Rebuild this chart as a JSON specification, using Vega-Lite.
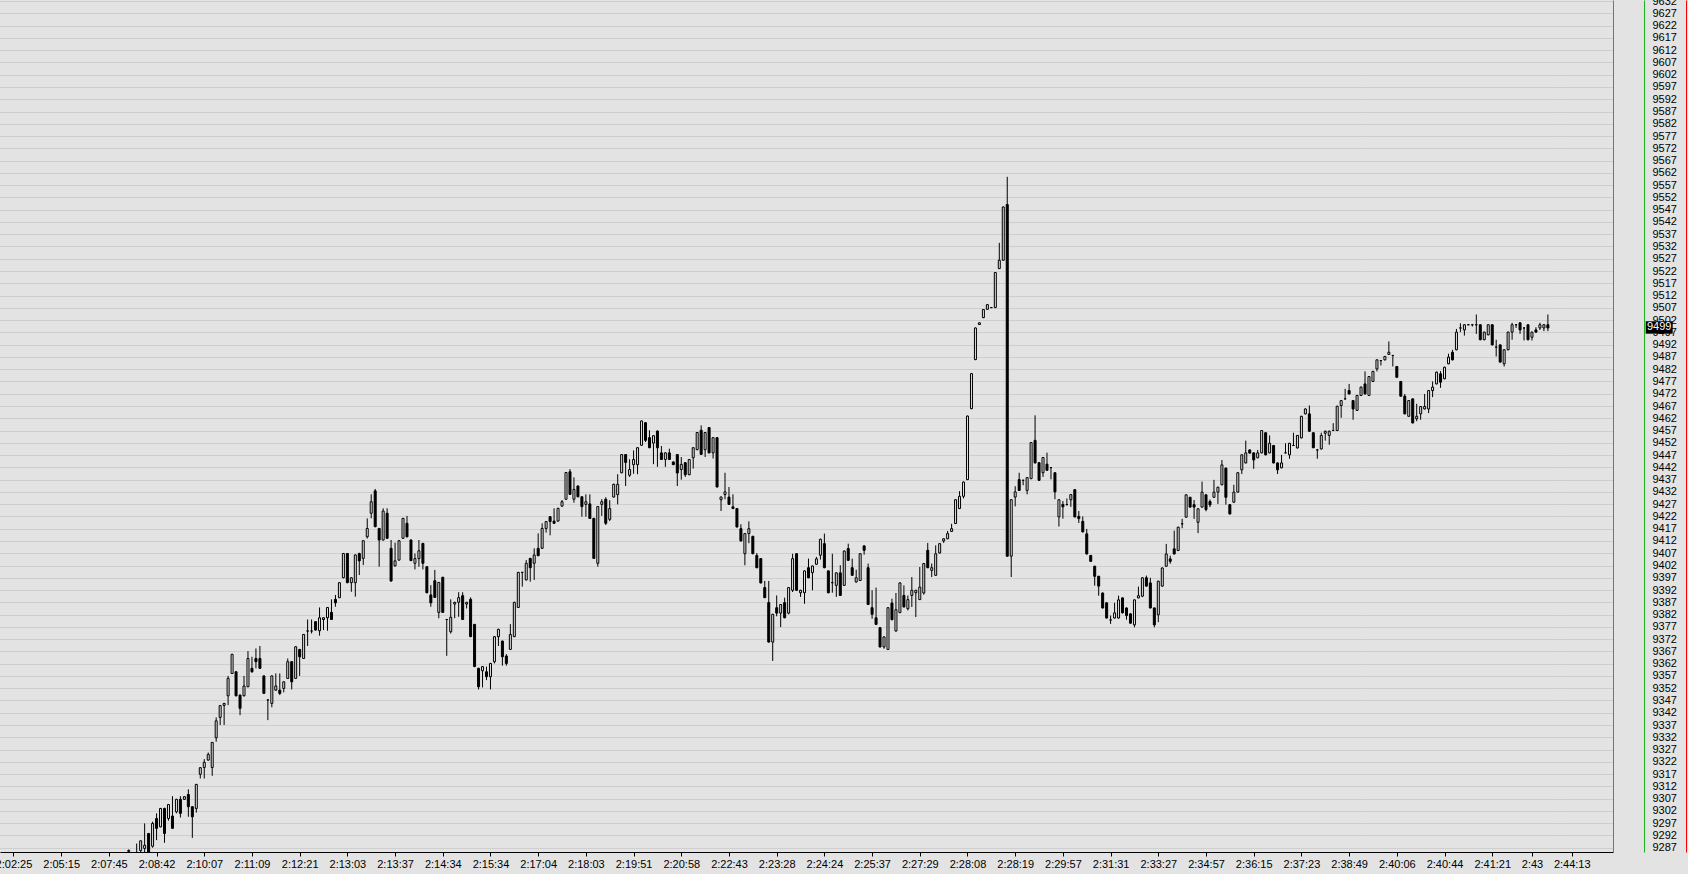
{
"$schema": "https://vega.github.io/schema/vega-lite/v6.json",
"width": 1613, "height": 852,
"autosize": {"type": "none"},
"padding": {"left": 0, "top": 0, "right": 75, "bottom": 22},
"background": "#e3e3e3",
"config": {"view": {"stroke": null}, "axis": {"labelFont": "Liberation Sans", "labelFontSize": 11, "labelColor": "#000000"}},
"datasets": {
"last": [{"price": 9499}],
"candles": [
{"i":29,"o":9285.5,"h":9286.3,"l":9283,"c":9285.9},
{"i":31,"o":9284,"h":9288.7,"l":9280,"c":9283},
{"i":32,"o":9285.8,"h":9289.9,"l":9285,"c":9289.8},
{"i":33,"o":9286.7,"h":9296.9,"l":9285.2,"c":9288.0},
{"i":34,"o":9292.8,"h":9293,"l":9283,"c":9284.5},
{"i":35,"o":9287.6,"h":9297.6,"l":9287,"c":9296.9},
{"i":36,"o":9298.9,"h":9301,"l":9290.1,"c":9294.9},
{"i":37,"o":9295.5,"h":9303.2,"l":9295.3,"c":9303.0},
{"i":38,"o":9303,"h":9303.3,"l":9289,"c":9292.8},
{"i":39,"o":9298.9,"h":9304.8,"l":9298,"c":9304.6},
{"i":40,"o":9299.9,"h":9308,"l":9294.7,"c":9294.9},
{"i":41,"o":9301.6,"h":9306.9,"l":9301,"c":9306.7},
{"i":42,"o":9306.7,"h":9308,"l":9299.3,"c":9301.0},
{"i":43,"o":9306.7,"h":9308,"l":9306.5,"c":9307.8},
{"i":44,"o":9308.7,"h":9310.8,"l":9299.6,"c":9303.7},
{"i":45,"o":9303.7,"h":9303.9,"l":9291,"c":9299.6},
{"i":46,"o":9303,"h":9313,"l":9301.3,"c":9312.8},
{"i":47,"o":9316.9,"h":9319.8,"l":9315.2,"c":9319.6},
{"i":48,"o":9319.7,"h":9323.1,"l":9315.2,"c":9321.8},
{"i":49,"o":9322.7,"h":9325.8,"l":9322.5,"c":9325.0},
{"i":50,"o":9319.7,"h":9330.1,"l":9316.3,"c":9329.9},
{"i":51,"o":9331.8,"h":9340.1,"l":9330.2,"c":9338.7},
{"i":52,"o":9340.1,"h":9345.1,"l":9337,"c":9344.9},
{"i":53,"o":9345,"h":9346,"l":9337,"c":9345.8},
{"i":54,"o":9348.9,"h":9357,"l":9345.1,"c":9356.0},
{"i":55,"o":9358,"h":9366,"l":9357.8,"c":9365.8},
{"i":56,"o":9358.7,"h":9358.9,"l":9348.7,"c":9348.9},
{"i":57,"o":9349.2,"h":9349.4,"l":9341,"c":9343.8},
{"i":58,"o":9348.9,"h":9357,"l":9348.7,"c":9352.9},
{"i":59,"o":9352.6,"h":9367.1,"l":9352.4,"c":9364.1},
{"i":60,"o":9360.1,"h":9364.8,"l":9358.3,"c":9358.7},
{"i":61,"o":9364.1,"h":9368.2,"l":9360.1,"c":9362.8},
{"i":62,"o":9364.1,"h":9369.2,"l":9359.9,"c":9360.1},
{"i":63,"o":9357,"h":9357.2,"l":9349.7,"c":9349.9},
{"i":64,"o":9347.2,"h":9347.4,"l":9339,"c":9347.2},
{"i":65,"o":9345.8,"h":9357.2,"l":9344.2,"c":9357.0},
{"i":66,"o":9351.2,"h":9358,"l":9351,"c":9352.9},
{"i":67,"o":9351.2,"h":9358,"l":9349.2,"c":9349.9},
{"i":68,"o":9351.9,"h":9354.8,"l":9350.3,"c":9354.6},
{"i":69,"o":9356,"h":9364.1,"l":9355.8,"c":9362.8},
{"i":70,"o":9362.8,"h":9363,"l":9351.5,"c":9354.6},
{"i":71,"o":9356,"h":9369.1,"l":9355.8,"c":9368.9},
{"i":72,"o":9367.8,"h":9368,"l":9357,"c":9364.8},
{"i":73,"o":9364.1,"h":9374.1,"l":9363.9,"c":9373.9},
{"i":74,"o":9375.3,"h":9380,"l":9369.2,"c":9375.3},
{"i":75,"o":9375.3,"h":9380,"l":9374.3,"c":9375.3},
{"i":76,"o":9379.1,"h":9379.3,"l":9375.5,"c":9375.7},
{"i":77,"o":9375.4,"h":9384.9,"l":9373.4,"c":9380.7},
{"i":78,"o":9380,"h":9380.9,"l":9375.7,"c":9380.7},
{"i":79,"o":9380.7,"h":9385.1,"l":9375.4,"c":9384.9},
{"i":80,"o":9382.9,"h":9388.2,"l":9379.8,"c":9380.0},
{"i":81,"o":9388.2,"h":9390,"l":9385.2,"c":9386.8},
{"i":82,"o":9388.9,"h":9395.2,"l":9388.7,"c":9395.0},
{"i":83,"o":9397,"h":9407.1,"l":9396.8,"c":9406.9},
{"i":84,"o":9406.9,"h":9407.1,"l":9394.8,"c":9395.0},
{"i":85,"o":9395,"h":9397.2,"l":9391.3,"c":9397.0},
{"i":86,"o":9395,"h":9406.5,"l":9389.3,"c":9406.3},
{"i":87,"o":9406.9,"h":9407.2,"l":9398.1,"c":9403.9},
{"i":88,"o":9404.9,"h":9412.3,"l":9402.2,"c":9412.1},
{"i":89,"o":9413.7,"h":9421.2,"l":9413,"c":9417.1},
{"i":90,"o":9423.3,"h":9431,"l":9421.2,"c":9428.0},
{"i":91,"o":9432.4,"h":9433.2,"l":9417.6,"c":9417.8},
{"i":92,"o":9417.1,"h":9417.3,"l":9401.5,"c":9412.4},
{"i":93,"o":9412.4,"h":9425.3,"l":9412.2,"c":9424.2},
{"i":94,"o":9423.3,"h":9425.3,"l":9412.9,"c":9413.1},
{"i":95,"o":9409,"h":9412.4,"l":9395.3,"c":9395.7},
{"i":96,"o":9401.9,"h":9411.3,"l":9401.5,"c":9403.9},
{"i":97,"o":9404.2,"h":9412.3,"l":9404,"c":9412.1},
{"i":98,"o":9413.1,"h":9421.4,"l":9412.9,"c":9421.2},
{"i":99,"o":9419.2,"h":9422.2,"l":9413.5,"c":9413.7},
{"i":100,"o":9412.4,"h":9412.6,"l":9403.8,"c":9404.0},
{"i":101,"o":9402.9,"h":9406.9,"l":9400.4,"c":9404.8},
{"i":102,"o":9404.8,"h":9412.4,"l":9401.5,"c":9408.0},
{"i":103,"o":9411,"h":9411.2,"l":9400.4,"c":9402.9},
{"i":104,"o":9401.5,"h":9401.7,"l":9390.7,"c":9390.9},
{"i":105,"o":9390,"h":9394,"l":9385.2,"c":9386.8},
{"i":106,"o":9395.8,"h":9400.2,"l":9388.8,"c":9389.0},
{"i":107,"o":9382.9,"h":9395.3,"l":9380.5,"c":9395.1},
{"i":108,"o":9397.2,"h":9397.4,"l":9382.7,"c":9382.9},
{"i":109,"o":9380,"h":9380.2,"l":9365.2,"c":9380.0},
{"i":110,"o":9375,"h":9388.2,"l":9374.3,"c":9380.9},
{"i":111,"o":9386.3,"h":9387.2,"l":9380.5,"c":9387.0},
{"i":112,"o":9387,"h":9391.1,"l":9381.1,"c":9388.9},
{"i":113,"o":9389.7,"h":9391.1,"l":9379.8,"c":9380.0},
{"i":114,"o":9386.3,"h":9387.2,"l":9384.5,"c":9387.0},
{"i":115,"o":9388.2,"h":9389,"l":9372.8,"c":9373.0},
{"i":116,"o":9378,"h":9378.2,"l":9360.6,"c":9360.8},
{"i":117,"o":9360.1,"h":9360.3,"l":9351.5,"c":9352.6},
{"i":118,"o":9359.1,"h":9361,"l":9352.3,"c":9360.8},
{"i":119,"o":9358.7,"h":9360.8,"l":9355.3,"c":9356.7},
{"i":120,"o":9356.7,"h":9362.3,"l":9351.5,"c":9362.1},
{"i":121,"o":9362.8,"h":9373.2,"l":9362.1,"c":9373.0},
{"i":122,"o":9373,"h":9376.2,"l":9369.2,"c":9376.0},
{"i":123,"o":9371.2,"h":9371.4,"l":9361.2,"c":9364.8},
{"i":124,"o":9365.1,"h":9365.9,"l":9361.2,"c":9362.1},
{"i":125,"o":9367.8,"h":9378.1,"l":9367.6,"c":9373.9},
{"i":126,"o":9373,"h":9387.2,"l":9372.8,"c":9387.0},
{"i":127,"o":9384.9,"h":9399.4,"l":9384.7,"c":9399.2},
{"i":128,"o":9399.2,"h":9399.4,"l":9393.4,"c":9399.2},
{"i":129,"o":9396.1,"h":9404.2,"l":9396,"c":9402.9},
{"i":130,"o":9404.9,"h":9405.1,"l":9395.4,"c":9401.1},
{"i":131,"o":9402.9,"h":9409,"l":9396.1,"c":9406.3},
{"i":132,"o":9409,"h":9415.1,"l":9405.8,"c":9406.0},
{"i":133,"o":9409,"h":9419.2,"l":9408.8,"c":9417.1},
{"i":134,"o":9417.1,"h":9420.1,"l":9415.4,"c":9419.9},
{"i":135,"o":9421.9,"h":9422.1,"l":9414.3,"c":9419.9},
{"i":136,"o":9420.1,"h":9425.3,"l":9419,"c":9419.2},
{"i":137,"o":9420.1,"h":9425.5,"l":9419.9,"c":9425.3},
{"i":138,"o":9426.2,"h":9428.7,"l":9426,"c":9428.0},
{"i":139,"o":9429,"h":9440.1,"l":9428.8,"c":9439.9},
{"i":140,"o":9440.2,"h":9441.3,"l":9430.8,"c":9431.0},
{"i":141,"o":9429,"h":9437.9,"l":9427.6,"c":9433.0},
{"i":142,"o":9434.4,"h":9434.6,"l":9429.8,"c":9430.0},
{"i":143,"o":9430,"h":9430.2,"l":9421.9,"c":9426.0},
{"i":144,"o":9426.9,"h":9431,"l":9421.9,"c":9428.0},
{"i":145,"o":9427.1,"h":9431,"l":9421,"c":9421.2},
{"i":146,"o":9421.2,"h":9421.4,"l":9404.7,"c":9404.9},
{"i":147,"o":9402.9,"h":9426.2,"l":9401.5,"c":9426.0},
{"i":148,"o":9426.9,"h":9429,"l":9422.2,"c":9428.0},
{"i":149,"o":9429,"h":9429.8,"l":9418.5,"c":9419.2},
{"i":150,"o":9420.8,"h":9428.6,"l":9420.1,"c":9425.2},
{"i":151,"o":9429.9,"h":9435.3,"l":9429.7,"c":9435.1},
{"i":152,"o":9430.9,"h":9439.2,"l":9426.9,"c":9435.1},
{"i":153,"o":9439.8,"h":9447.4,"l":9439.6,"c":9447.2},
{"i":154,"o":9447.2,"h":9447.4,"l":9434.4,"c":9444.0},
{"i":155,"o":9438.8,"h":9445.3,"l":9438.1,"c":9441.1},
{"i":156,"o":9443.1,"h":9448.9,"l":9439.4,"c":9445.2},
{"i":157,"o":9443.1,"h":9450.2,"l":9439.2,"c":9450.0},
{"i":158,"o":9451,"h":9461.1,"l":9450.8,"c":9460.9},
{"i":159,"o":9460.2,"h":9460.4,"l":9452.3,"c":9453.0},
{"i":160,"o":9454.1,"h":9457.1,"l":9449.8,"c":9450.0},
{"i":161,"o":9451.9,"h":9455.1,"l":9443.3,"c":9454.9},
{"i":162,"o":9456.8,"h":9457,"l":9442.2,"c":9450.0},
{"i":163,"o":9447.9,"h":9450.7,"l":9445,"c":9445.2},
{"i":164,"o":9445.2,"h":9448.1,"l":9442.2,"c":9447.9},
{"i":165,"o":9447.9,"h":9449.6,"l":9445,"c":9445.2},
{"i":166,"o":9444.2,"h":9444.4,"l":9442.9,"c":9443.1},
{"i":167,"o":9447.2,"h":9447.4,"l":9434.4,"c":9439.7},
{"i":168,"o":9441.1,"h":9446.2,"l":9437,"c":9443.2},
{"i":169,"o":9443.9,"h":9444.1,"l":9438.1,"c":9439.0},
{"i":170,"o":9439,"h":9445.4,"l":9438.8,"c":9445.2},
{"i":171,"o":9445.9,"h":9450.2,"l":9441.5,"c":9450.0},
{"i":172,"o":9449.2,"h":9456.4,"l":9449,"c":9456.2},
{"i":173,"o":9457.1,"h":9459.1,"l":9447.1,"c":9447.3},
{"i":174,"o":9449.2,"h":9456.4,"l":9446.2,"c":9456.2},
{"i":175,"o":9458.2,"h":9458.4,"l":9447.7,"c":9447.9},
{"i":176,"o":9447.9,"h":9454.3,"l":9445.6,"c":9454.1},
{"i":177,"o":9454.1,"h":9454.3,"l":9433.8,"c":9434.0},
{"i":178,"o":9428.8,"h":9430.1,"l":9424.2,"c":9429.9},
{"i":179,"o":9430.9,"h":9439.8,"l":9429,"c":9432.0},
{"i":180,"o":9429.9,"h":9434,"l":9426.7,"c":9426.9},
{"i":181,"o":9425.9,"h":9431,"l":9425,"c":9425.2},
{"i":182,"o":9425.2,"h":9425.4,"l":9417.5,"c":9417.7},
{"i":183,"o":9417,"h":9418.8,"l":9411.8,"c":9412.0},
{"i":184,"o":9406.8,"h":9415.2,"l":9402.1,"c":9415.0},
{"i":185,"o":9415,"h":9420,"l":9411.1,"c":9417.0},
{"i":186,"o":9413.9,"h":9414.1,"l":9406.6,"c":9406.8},
{"i":187,"o":9406.1,"h":9407.1,"l":9400.9,"c":9401.1},
{"i":188,"o":9404.8,"h":9405,"l":9394.7,"c":9394.9},
{"i":189,"o":9393,"h":9395.7,"l":9388.7,"c":9388.9},
{"i":190,"o":9386.9,"h":9395.7,"l":9370.6,"c":9370.8},
{"i":191,"o":9370.8,"h":9382.3,"l":9363.1,"c":9382.1},
{"i":192,"o":9384.8,"h":9389.8,"l":9381.3,"c":9382.6},
{"i":193,"o":9382.6,"h":9386.3,"l":9376.9,"c":9386.1},
{"i":194,"o":9386.9,"h":9388.9,"l":9380.5,"c":9380.7},
{"i":195,"o":9382.6,"h":9393.2,"l":9382.1,"c":9393.0},
{"i":196,"o":9391.9,"h":9406.8,"l":9391.2,"c":9404.8},
{"i":197,"o":9406.8,"h":9407,"l":9391.7,"c":9391.9},
{"i":198,"o":9390.9,"h":9392.1,"l":9389.2,"c":9391.9},
{"i":199,"o":9390.9,"h":9400,"l":9386.4,"c":9399.8},
{"i":200,"o":9401.1,"h":9404.8,"l":9396.8,"c":9397.0},
{"i":201,"o":9399.1,"h":9402,"l":9391.9,"c":9401.8},
{"i":202,"o":9402.5,"h":9405.5,"l":9402.3,"c":9404.7},
{"i":203,"o":9406.2,"h":9412.9,"l":9404.4,"c":9412.7},
{"i":204,"o":9410.9,"h":9415,"l":9400.9,"c":9401.1},
{"i":205,"o":9399.8,"h":9400,"l":9390.7,"c":9390.9},
{"i":206,"o":9395,"h":9406.8,"l":9390.9,"c":9395.0},
{"i":207,"o":9393.9,"h":9399.2,"l":9389.2,"c":9399.0},
{"i":208,"o":9399,"h":9402.1,"l":9389.6,"c":9389.8},
{"i":209,"o":9393.9,"h":9408.1,"l":9393.7,"c":9407.9},
{"i":210,"o":9408.9,"h":9410.9,"l":9403.9,"c":9404.1},
{"i":211,"o":9401.1,"h":9404.8,"l":9397.8,"c":9398.0},
{"i":212,"o":9395.3,"h":9400.3,"l":9395,"c":9397.0},
{"i":213,"o":9395.9,"h":9407,"l":9395.7,"c":9406.8},
{"i":214,"o":9410,"h":9410.2,"l":9406.4,"c":9408.2},
{"i":215,"o":9401.1,"h":9402.8,"l":9385.9,"c":9386.1},
{"i":216,"o":9384.8,"h":9391.9,"l":9380.3,"c":9382.1},
{"i":217,"o":9380.7,"h":9393,"l":9377.8,"c":9378.0},
{"i":218,"o":9376.7,"h":9376.9,"l":9368.6,"c":9368.8},
{"i":219,"o":9368.8,"h":9373.1,"l":9368.1,"c":9372.9},
{"i":220,"o":9367.8,"h":9385,"l":9367.6,"c":9384.8},
{"i":221,"o":9386.7,"h":9388.5,"l":9379.7,"c":9379.9},
{"i":222,"o":9375.3,"h":9390.8,"l":9375.1,"c":9384.0},
{"i":223,"o":9382.8,"h":9395.1,"l":9382.6,"c":9394.9},
{"i":224,"o":9389.8,"h":9393.9,"l":9384.9,"c":9385.1},
{"i":225,"o":9384.4,"h":9389.8,"l":9383.7,"c":9388.1},
{"i":226,"o":9389.8,"h":9397.3,"l":9385.1,"c":9391.9},
{"i":227,"o":9390.9,"h":9392.1,"l":9381,"c":9391.9},
{"i":228,"o":9388.1,"h":9401.4,"l":9388,"c":9393.2},
{"i":229,"o":9390.8,"h":9403,"l":9390.1,"c":9402.8},
{"i":230,"o":9408.2,"h":9411.2,"l":9400.9,"c":9401.1},
{"i":231,"o":9400,"h":9402.8,"l":9397.3,"c":9401.1},
{"i":232,"o":9398,"h":9410.2,"l":9397.8,"c":9406.8},
{"i":233,"o":9407.1,"h":9411.1,"l":9406.9,"c":9410.9},
{"i":234,"o":9412,"h":9413.1,"l":9411.2,"c":9412.9},
{"i":235,"o":9412.9,"h":9416.1,"l":9412.7,"c":9415.0},
{"i":236,"o":9415.9,"h":9419,"l":9415.7,"c":9417.0},
{"i":237,"o":9419.1,"h":9429,"l":9418.9,"c":9428.8},
{"i":238,"o":9425.2,"h":9432.3,"l":9425,"c":9430.2},
{"i":239,"o":9430.2,"h":9436.2,"l":9429.3,"c":9436.0},
{"i":240,"o":9437,"h":9463.1,"l":9436.8,"c":9462.9},
{"i":241,"o":9465.9,"h":9480.4,"l":9465.7,"c":9480.2},
{"i":242,"o":9485.9,"h":9499,"l":9485.7,"c":9498.8},
{"i":243,"o":9500.2,"h":9501.1,"l":9500,"c":9500.9},
{"i":244,"o":9503,"h":9506.5,"l":9502.8,"c":9506.3},
{"i":245,"o":9506.4,"h":9508.5,"l":9506.2,"c":9508.3},
{"i":246,"o":9507.1,"h":9507.3,"l":9506.9,"c":9507.1},
{"i":247,"o":9507.1,"h":9521.6,"l":9506.9,"c":9521.4},
{"i":248,"o":9523,"h":9533.5,"l":9522.8,"c":9526.4},
{"i":249,"o":9526.4,"h":9548.3,"l":9526.2,"c":9548.1},
{"i":250,"o":9549.1,"h":9560.4,"l":9405.6,"c":9405.8},
{"i":251,"o":9405.8,"h":9429,"l":9397.3,"c":9428.8},
{"i":252,"o":9429.9,"h":9434.3,"l":9426.1,"c":9432.0},
{"i":253,"o":9437,"h":9439.8,"l":9432.4,"c":9432.6},
{"i":254,"o":9436.7,"h":9437,"l":9434.7,"c":9436.7},
{"i":255,"o":9432.6,"h":9438,"l":9431,"c":9437.8},
{"i":256,"o":9437.4,"h":9452.3,"l":9437.2,"c":9452.1},
{"i":257,"o":9453,"h":9463.2,"l":9443.6,"c":9443.8},
{"i":258,"o":9443.9,"h":9444.1,"l":9436.5,"c":9436.7},
{"i":259,"o":9439.8,"h":9446.2,"l":9438.1,"c":9446.0},
{"i":260,"o":9443.3,"h":9448,"l":9440.6,"c":9440.8},
{"i":261,"o":9441.9,"h":9442.1,"l":9437.1,"c":9441.9},
{"i":262,"o":9439.8,"h":9440,"l":9429,"c":9432.0},
{"i":263,"o":9421.8,"h":9429,"l":9417.9,"c":9428.8},
{"i":264,"o":9426.9,"h":9428.3,"l":9421.1,"c":9425.9},
{"i":265,"o":9426.8,"h":9429.3,"l":9426.5,"c":9426.8},
{"i":266,"o":9428.8,"h":9431.1,"l":9425.9,"c":9430.9},
{"i":267,"o":9432.9,"h":9433.1,"l":9421.6,"c":9421.8},
{"i":268,"o":9422,"h":9424.2,"l":9419.3,"c":9421.1},
{"i":269,"o":9420,"h":9422,"l":9415.5,"c":9415.7},
{"i":270,"o":9414.9,"h":9416.9,"l":9406.5,"c":9406.7},
{"i":271,"o":9406.1,"h":9406.3,"l":9403.5,"c":9403.7},
{"i":272,"o":9401.7,"h":9401.9,"l":9393.8,"c":9397.6},
{"i":273,"o":9397.6,"h":9397.8,"l":9389.7,"c":9393.6},
{"i":274,"o":9390.8,"h":9391,"l":9384.5,"c":9384.7},
{"i":275,"o":9386.8,"h":9387,"l":9380.4,"c":9380.6},
{"i":276,"o":9379.8,"h":9381.6,"l":9378.2,"c":9379.8},
{"i":277,"o":9380.6,"h":9386.8,"l":9380.4,"c":9382.7},
{"i":278,"o":9380.6,"h":9389.7,"l":9380.4,"c":9388.0},
{"i":279,"o":9388.8,"h":9389,"l":9382.5,"c":9382.7},
{"i":280,"o":9384.7,"h":9384.9,"l":9379.9,"c":9381.6},
{"i":281,"o":9382.3,"h":9382.5,"l":9378.3,"c":9378.5},
{"i":282,"o":9377.8,"h":9388.2,"l":9376.8,"c":9388.0},
{"i":283,"o":9388.8,"h":9393.4,"l":9388.6,"c":9389.7},
{"i":284,"o":9389.5,"h":9397.2,"l":9389.1,"c":9397.0},
{"i":285,"o":9397,"h":9397.9,"l":9393.4,"c":9393.6},
{"i":286,"o":9394.9,"h":9397,"l":9384.5,"c":9384.7},
{"i":287,"o":9384.7,"h":9384.9,"l":9376.8,"c":9377.8},
{"i":288,"o":9381.9,"h":9395.8,"l":9378.9,"c":9395.6},
{"i":289,"o":9393.6,"h":9401.2,"l":9393.4,"c":9401.0},
{"i":290,"o":9401.7,"h":9410.8,"l":9401.5,"c":9406.7},
{"i":291,"o":9404.7,"h":9406,"l":9402.7,"c":9403.7},
{"i":292,"o":9408.8,"h":9416.2,"l":9406.5,"c":9406.7},
{"i":293,"o":9408.1,"h":9417.8,"l":9407.9,"c":9417.6},
{"i":294,"o":9419,"h":9421,"l":9417.2,"c":9419.0},
{"i":295,"o":9421.7,"h":9431,"l":9421.5,"c":9430.8},
{"i":296,"o":9429.8,"h":9430,"l":9425.6,"c":9425.8},
{"i":297,"o":9426.8,"h":9428.7,"l":9421,"c":9425.8},
{"i":298,"o":9419.6,"h":9425.3,"l":9415.2,"c":9425.1},
{"i":299,"o":9425.8,"h":9436.2,"l":9425.6,"c":9431.9},
{"i":300,"o":9430.8,"h":9431,"l":9424.1,"c":9424.8},
{"i":301,"o":9428.1,"h":9428.9,"l":9425.8,"c":9426.7},
{"i":302,"o":9429.8,"h":9436.9,"l":9429.6,"c":9431.9},
{"i":303,"o":9431.9,"h":9434.1,"l":9427.1,"c":9433.9},
{"i":304,"o":9434.9,"h":9445,"l":9434.7,"c":9443.0},
{"i":305,"o":9441.7,"h":9441.9,"l":9426.8,"c":9429.8},
{"i":306,"o":9426.8,"h":9427,"l":9422.8,"c":9423.0},
{"i":307,"o":9427.8,"h":9434.9,"l":9427.6,"c":9431.9},
{"i":308,"o":9431.9,"h":9440,"l":9431.7,"c":9439.8},
{"i":309,"o":9441,"h":9447.3,"l":9439.3,"c":9447.1},
{"i":310,"o":9443.8,"h":9452.9,"l":9443.6,"c":9447.9},
{"i":311,"o":9449.1,"h":9449.3,"l":9447.6,"c":9447.8},
{"i":312,"o":9447.9,"h":9448.1,"l":9441.4,"c":9445.0},
{"i":313,"o":9445.9,"h":9449.1,"l":9445.7,"c":9447.9},
{"i":314,"o":9447.9,"h":9457.2,"l":9447.7,"c":9457.0},
{"i":315,"o":9456.1,"h":9456.3,"l":9446.9,"c":9447.1},
{"i":316,"o":9447.9,"h":9455,"l":9447.7,"c":9451.8},
{"i":317,"o":9450.9,"h":9451.1,"l":9443.6,"c":9443.8},
{"i":318,"o":9443.8,"h":9444,"l":9439.3,"c":9441.0},
{"i":319,"o":9441.8,"h":9447.1,"l":9441.6,"c":9443.8},
{"i":320,"o":9447.9,"h":9451.8,"l":9447.7,"c":9447.9},
{"i":321,"o":9447.1,"h":9452,"l":9445.5,"c":9451.8},
{"i":322,"o":9450.9,"h":9456.1,"l":9450.7,"c":9450.9},
{"i":323,"o":9449.9,"h":9455.2,"l":9449.7,"c":9455.0},
{"i":324,"o":9454,"h":9463,"l":9453.8,"c":9462.8},
{"i":325,"o":9463.8,"h":9466,"l":9463.6,"c":9465.8},
{"i":326,"o":9463.8,"h":9467.2,"l":9456.5,"c":9456.7},
{"i":327,"o":9456.1,"h":9456.3,"l":9449.8,"c":9450.0},
{"i":328,"o":9449.1,"h":9449.3,"l":9445.5,"c":9449.1},
{"i":329,"o":9449.5,"h":9456.1,"l":9449.3,"c":9455.0},
{"i":330,"o":9455.9,"h":9457,"l":9452.9,"c":9456.7},
{"i":331,"o":9455,"h":9457,"l":9451.2,"c":9456.7},
{"i":332,"o":9457,"h":9460,"l":9456.8,"c":9457.0},
{"i":333,"o":9457,"h":9467.1,"l":9456.8,"c":9466.9},
{"i":334,"o":9467.2,"h":9469.4,"l":9462.2,"c":9469.2},
{"i":335,"o":9469.9,"h":9474,"l":9469.7,"c":9469.9},
{"i":336,"o":9473.3,"h":9476,"l":9471.7,"c":9471.9},
{"i":337,"o":9469.2,"h":9469.4,"l":9461.4,"c":9465.8},
{"i":338,"o":9465.2,"h":9471.5,"l":9465,"c":9471.3},
{"i":339,"o":9471.3,"h":9474.9,"l":9471.1,"c":9474.7},
{"i":340,"o":9476,"h":9481.1,"l":9471.7,"c":9471.9},
{"i":341,"o":9471.3,"h":9479.2,"l":9471.1,"c":9479.0},
{"i":342,"o":9477,"h":9481.3,"l":9476.8,"c":9481.1},
{"i":343,"o":9482.1,"h":9486,"l":9481.1,"c":9485.8},
{"i":344,"o":9485.5,"h":9485.7,"l":9483.5,"c":9485.5},
{"i":345,"o":9485.8,"h":9487.4,"l":9485.6,"c":9487.2},
{"i":346,"o":9488,"h":9493.3,"l":9487.8,"c":9488.9},
{"i":347,"o":9487.6,"h":9487.8,"l":9483.1,"c":9487.6},
{"i":348,"o":9483.1,"h":9483.3,"l":9478.5,"c":9478.7},
{"i":349,"o":9477,"h":9477.2,"l":9470.8,"c":9471.0},
{"i":350,"o":9471,"h":9471.9,"l":9463.6,"c":9463.8},
{"i":351,"o":9462.8,"h":9469.4,"l":9462.6,"c":9469.2},
{"i":352,"o":9469.9,"h":9470.1,"l":9459.9,"c":9460.1},
{"i":353,"o":9461.8,"h":9467.9,"l":9460.8,"c":9462.8},
{"i":354,"o":9463.8,"h":9467,"l":9461.4,"c":9466.8},
{"i":355,"o":9465.8,"h":9471.9,"l":9465.6,"c":9466.8},
{"i":356,"o":9465.8,"h":9473.5,"l":9464.1,"c":9473.3},
{"i":357,"o":9473.3,"h":9477,"l":9470.6,"c":9474.7},
{"i":358,"o":9476,"h":9481,"l":9475.8,"c":9480.8},
{"i":359,"o":9480.1,"h":9481.2,"l":9474.4,"c":9476.7},
{"i":360,"o":9478.1,"h":9483,"l":9477.9,"c":9482.8},
{"i":361,"o":9484.2,"h":9488.3,"l":9484,"c":9486.9},
{"i":362,"o":9488.9,"h":9489.9,"l":9485.6,"c":9485.8},
{"i":363,"o":9489.9,"h":9498.4,"l":9489.7,"c":9497.1},
{"i":364,"o":9498.8,"h":9500.7,"l":9497.1,"c":9498.8},
{"i":365,"o":9498,"h":9500.3,"l":9495.7,"c":9500.1},
{"i":366,"o":9500.1,"h":9500.3,"l":9499.9,"c":9500.1},
{"i":367,"o":9500.1,"h":9500.3,"l":9499.4,"c":9500.1},
{"i":368,"o":9500.1,"h":9504.3,"l":9496.4,"c":9500.1},
{"i":369,"o":9500.1,"h":9500.3,"l":9493.8,"c":9494.0},
{"i":370,"o":9494,"h":9497.3,"l":9493.8,"c":9497.1},
{"i":371,"o":9496,"h":9500.3,"l":9495.8,"c":9500.1},
{"i":372,"o":9500.1,"h":9500.3,"l":9491.7,"c":9491.9},
{"i":373,"o":9491,"h":9494,"l":9487.2,"c":9491.0},
{"i":374,"o":9491.9,"h":9492.1,"l":9484.7,"c":9484.9},
{"i":375,"o":9484.2,"h":9490.1,"l":9483.1,"c":9489.9},
{"i":376,"o":9489.9,"h":9497.3,"l":9489.7,"c":9497.1},
{"i":377,"o":9497.1,"h":9500.9,"l":9494,"c":9500.1},
{"i":378,"o":9500.1,"h":9500.3,"l":9498.8,"c":9500.1},
{"i":379,"o":9500.9,"h":9501.1,"l":9496.4,"c":9498.0},
{"i":380,"o":9498.8,"h":9499,"l":9493.7,"c":9498.8},
{"i":381,"o":9500.1,"h":9500.3,"l":9493.8,"c":9494.0},
{"i":382,"o":9495,"h":9497.3,"l":9493.7,"c":9497.1},
{"i":383,"o":9498,"h":9499.1,"l":9496.9,"c":9497.1},
{"i":384,"o":9498.8,"h":9500.9,"l":9498,"c":9500.1},
{"i":385,"o":9498.8,"h":9500.3,"l":9497.5,"c":9500.1},
{"i":386,"o":9500.1,"h":9504.3,"l":9497.5,"c":9498.8}
]},
"layer": [
{"data": {"name": "candles"},
 "mark": {"type": "rule", "color": "#000000", "strokeWidth": 1, "clip": true},
 "encoding": {
  "x": {"field": "i", "type": "quantitative", "scale": {"domain": [-2.125, 401.125], "nice": false, "zero": false},
        "axis": {"title": null, "values": [0,12,24,36,48,60,72,84,96,108,120,132,144,156,168,180,192,204,216,228,240,252,264,276,288,300,312,324,336,348,360,372,382,392],
                 "labelExpr": "datum.value == 382 ? '2:43' : (datum.value == 392 ? '2:44:13' : (['2:02:25','2:05:15','2:07:45','2:08:42','2:10:07','2:11:09','2:12:21','2:13:03','2:13:37','2:14:34','2:15:34','2:17:04','2:18:03','2:19:51','2:20:58','2:22:43','2:23:28','2:24:24','2:25:37','2:27:29','2:28:08','2:28:19','2:29:57','2:31:31','2:33:27','2:34:57','2:36:15','2:37:23','2:38:49','2:40:06','2:40:44','2:41:21'])[round(datum.value / 12)])",
                 "domainColor": "#000000", "tickColor": "#000000", "tickSize": 4, "labelPadding": 2, "labelFlush": false, "labelOverlap": false, "labelBound": false, "grid": false}},
  "y": {"field": "l", "type": "quantitative", "scale": {"domain": [9285.25, 9632.45], "nice": false, "zero": false},
        "axis": {"orient": "right", "title": null, "values": [9287,9292,9297,9302,9307,9312,9317,9322,9327,9332,9337,9342,9347,9352,9357,9362,9367,9372,9377,9382,9387,9392,9397,9402,9407,9412,9417,9422,9427,9432,9437,9442,9447,9452,9457,9462,9467,9472,9477,9482,9487,9492,9497,9502,9507,9512,9517,9522,9527,9532,9537,9542,9547,9552,9557,9562,9567,9572,9577,9582,9587,9592,9597,9602,9607,9612,9617,9622,9627,9632],
                 "grid": true, "gridColor": "#b8b8b8", "gridDash": [1, 1], "gridWidth": 1,
                 "labels": false, "ticks": false, "domain": true, "domainColor": "#1db31d"}},
  "y2": {"field": "h"}
 }},
{"data": {"name": "candles"},
 "mark": {"type": "bar", "size": 2, "stroke": "#000000", "strokeWidth": 1, "clip": true},
 "encoding": {
  "x": {"field": "i", "type": "quantitative"},
  "y": {"field": "o", "type": "quantitative",
        "axis": {"orient": "right", "offset": 31, "title": null, "values": [9287,9292,9297,9302,9307,9312,9317,9322,9327,9332,9337,9342,9347,9352,9357,9362,9367,9372,9377,9382,9387,9392,9397,9402,9407,9412,9417,9422,9427,9432,9437,9442,9447,9452,9457,9462,9467,9472,9477,9482,9487,9492,9497,9502,9507,9512,9517,9522,9527,9532,9537,9542,9547,9552,9557,9562,9567,9572,9577,9582,9587,9592,9597,9602,9607,9612,9617,9622,9627,9632],
                 "format": "d", "grid": false, "ticks": false, "labelPadding": 8, "labelAlign": "left", "labelBaseline": "middle",
                 "labelOverlap": false, "labelFlush": false, "domain": true, "domainColor": "#1db31d"}},
  "y2": {"field": "c"},
  "fill": {"condition": {"test": "datum.c > datum.o", "value": "#e3e3e3"}, "value": "#000000"}
 }},
{"data": {"name": "candles"},
 "mark": {"type": "rule", "opacity": 0},
 "encoding": {
  "y": {"field": "h", "type": "quantitative",
        "axis": {"orient": "right", "offset": 73, "title": null, "labels": false, "ticks": false, "grid": false, "domain": true, "domainColor": "#ff0000"}}
 }},
{"data": {"name": "last"},
 "mark": {"type": "point", "shape": "M-1,-0.46H1V0.46H-1Z", "filled": true, "color": "#000000", "opacity": 1, "size": 729, "strokeWidth": 0},
 "encoding": {
  "x": {"datum": 414, "type": "quantitative"},
  "y": {"field": "price", "type": "quantitative", "axis": null}
 }},
{"data": {"name": "last"},
 "mark": {"type": "text", "color": "#ffffff", "font": "Liberation Sans", "fontSize": 11, "align": "center", "baseline": "middle"},
 "encoding": {
  "x": {"datum": 414, "type": "quantitative"},
  "y": {"field": "price", "type": "quantitative", "axis": null},
  "text": {"field": "price", "type": "quantitative", "format": "d"}
 }}
],
"resolve": {"axis": {"y": "independent"}}
}
